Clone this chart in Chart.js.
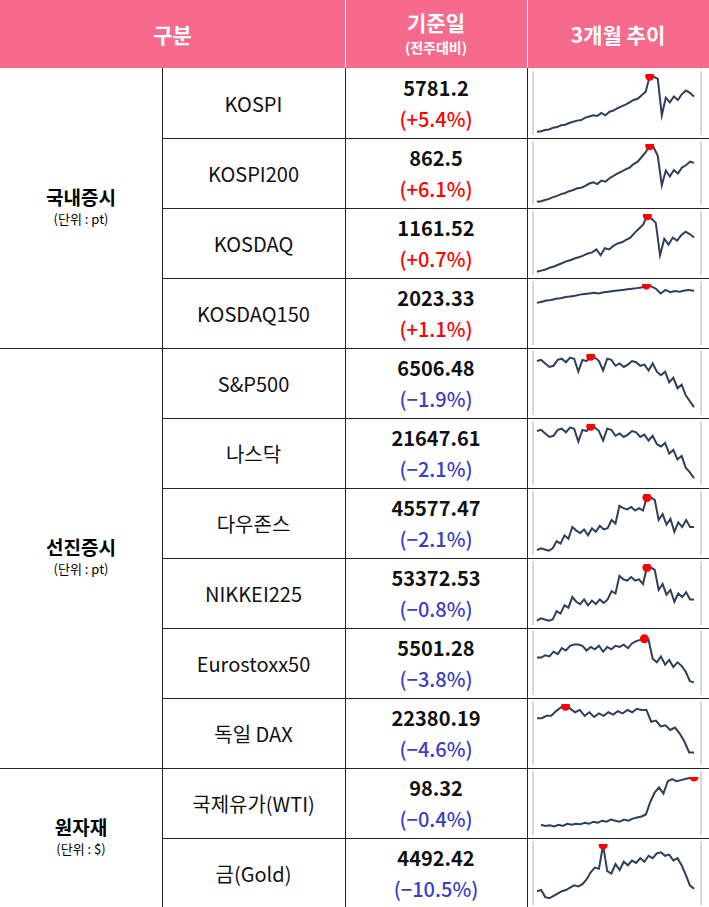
<!DOCTYPE html>
<html><head><meta charset="utf-8">
<script src="https://cdn.jsdelivr.net/npm/chart.js@4"></script>
<style>
body{margin:0;width:709px;height:907px;background:#fff;font-family:"Noto Sans CJK KR","Noto Sans",sans-serif;overflow:hidden;position:relative}
.a{position:absolute;box-sizing:border-box;display:flex;align-items:center;justify-content:center;text-align:center}
.hd{background:#f66b8c;color:#fff;font-weight:bold;font-size:21px;top:0;height:68px}
.ln{position:absolute;background:#222}
.nm{font-size:20px;color:#111}
.val{flex-direction:column;font-size:20px;font-weight:bold;line-height:31px;color:#111}
.grp{flex-direction:column;font-size:19px;font-weight:bold;line-height:22px}
.grp small{font-size:13px;font-weight:normal}
canvas{position:absolute}
</style></head><body>
<script>
const names=["KOSPI","KOSPI200","KOSDAQ","KOSDAQ150","S&P500","나스닥","다우존스","NIKKEI225","Eurostoxx50","독일 DAX","국제유가(WTI)","금(Gold)"];
const prices=["5781.2","862.5","1161.52","2023.33","6506.48","21647.61","45577.47","53372.53","5501.28","22380.19","98.32","4492.42"];
const changes=["+5.4%","+6.1%","+0.7%","+1.1%","-1.9%","-2.1%","-2.1%","-0.8%","-3.8%","-4.6%","-0.4%","-10.5%"];
const groups=[["국내증시","(단위 : pt)",0,4],["선진증시","(단위 : pt)",4,10],["원자재","(단위 : $)",10,12]];
const s0=[2,3,5,6,9,10,13,14,17,19,21,22,26,28,30,29,34,30,36,38,42,45,48,52,56,58,64,70,96,95,92,30,60,52,62,56,66,72,68,62];
const s1=[2,3,5,7,10,12,15,17,20,22,25,26,29,33,35,32,38,36,42,46,50,53,57,60,66,70,78,86,97,94,80,30,55,45,56,50,60,64,70,68];
const s2=[2,4,6,9,11,14,17,20,22,25,27,30,33,35,40,30,42,40,46,50,52,56,60,68,75,82,97,92,85,30,58,48,60,55,64,70,66,60];
const s3=[68,70,72,73,75,76,78,79,80,82,83,84,85,84,86,87,88,89,90,91,92,93,94,98,96,92,84,90,86,88,87,89,90,88];
const s4=[88,90,84,78,80,90,92,86,94,92,70,90,88,96,94,88,72,92,90,80,84,78,82,88,86,80,82,72,84,70,64,70,52,60,42,48,30,20,10];
const s5=[88,90,84,78,80,90,92,86,94,92,70,90,88,96,94,88,72,92,90,80,84,78,82,88,86,78,82,72,80,66,62,68,50,56,40,46,26,18,8];
const s6=[5,8,6,4,8,20,16,30,24,44,38,34,40,30,42,36,46,40,42,56,50,80,76,74,78,72,76,72,94,94,90,56,66,48,58,36,52,44,56,44,44];
const s7=[4,8,6,4,6,20,16,30,26,44,36,32,40,30,38,32,40,34,40,54,50,80,74,72,78,72,74,66,94,94,90,56,66,48,56,36,50,44,52,40,40];
const s8=[60,60,64,62,70,66,76,72,80,82,82,80,72,78,74,80,70,78,74,80,78,82,76,84,88,90,92,90,58,52,62,48,56,44,52,46,36,20,18];
const s9=[76,76,80,80,88,94,96,92,86,90,80,86,78,84,80,86,82,88,84,90,86,92,90,90,70,72,62,64,56,60,50,36,18,18];
const s10=[8,6,7,5,8,6,10,8,10,9,12,10,14,12,16,14,18,16,14,18,16,20,22,24,28,52,70,80,68,92,96,92,94,96,98,100];
const s11=[20,22,10,8,12,16,20,22,26,30,28,32,40,52,60,58,98,54,50,66,56,70,64,72,68,76,70,80,76,84,86,80,82,72,76,64,48,30,24];
const series=[s0,s1,s2,s3,s4,s5,s6,s7,s8,s9,s10,s11];

const top0=68, RH=70;
const B=document.body;
function el(cls,x,y,w,h,html){const d=document.createElement('div');d.className=cls;Object.assign(d.style,{left:x+'px',top:y+'px',width:w+'px',height:h+'px'});d.innerHTML=html;B.appendChild(d);return d;}
el('a hd',0,0,345,68,'구분');
el('a hd',345,0,182,68,'<div style="line-height:22px">기준일<br><span style="font-size:14px">(전주대비)</span></div>');
el('a hd',527,0,182,68,'3개월 추이');
[345,527].forEach(x=>{const l=el('ln',x,0,1,68,'');l.style.background='#fff';});
[162,345,527].forEach(x=>el('ln',x,68,1,839,''));
for(let i=1;i<12;i++){const y=top0+i*RH;const full=(i==4||i==10);el('ln',full?0:162,y,709-(full?0:162),1,'');}
groups.forEach(g=>{const y=top0+g[2]*RH,h=(g[3]-g[2])*RH;el('a grp',0,y,162,h,g[0]+'<small>'+g[1]+'</small>');});
names.forEach((n,i)=>{
 const y=top0+i*RH;
 el('a nm',162,y,183,RH,n);
 const c=changes[i].startsWith('+')?'#f00':'#3b3fc4';
 el('a val',345,y,182,RH,'<span>'+prices[i]+'</span><span style="color:'+c+';font-weight:500">('+changes[i].replace('-','−')+')</span>');
 el('ln',532,y+3,2,RH-6,'').style.background='#d8d8d8';
 el('ln',700,y+3,2,RH-6,'').style.background='#d8d8d8';
 const cv=document.createElement('canvas');
 Object.assign(cv.style,{left:'535px',top:(y+3)+'px',width:'165px',height:(RH-6)+'px'});
 cv.width=165;cv.height=RH-6;B.appendChild(cv);
 const d=series[i],mx=Math.max(...d),mi=d.indexOf(mx);
 new Chart(cv,{type:'line',data:{labels:d.map((_,k)=>k),datasets:[{data:d,borderColor:'#2f3f5a',borderWidth:2,tension:0,
  pointRadius:d.map((_,k)=>k==mi?3.5:0),pointBackgroundColor:'#f00',pointBorderColor:'#f00'}]},
  options:{responsive:false,animation:false,plugins:{legend:{display:false},tooltip:{enabled:false}},
  layout:{padding:{top:3,bottom:2,left:2,right:6}},
  scales:{x:{display:false},y:{display:false,min:0,max:100}}}});
});
</script>
</body></html>
